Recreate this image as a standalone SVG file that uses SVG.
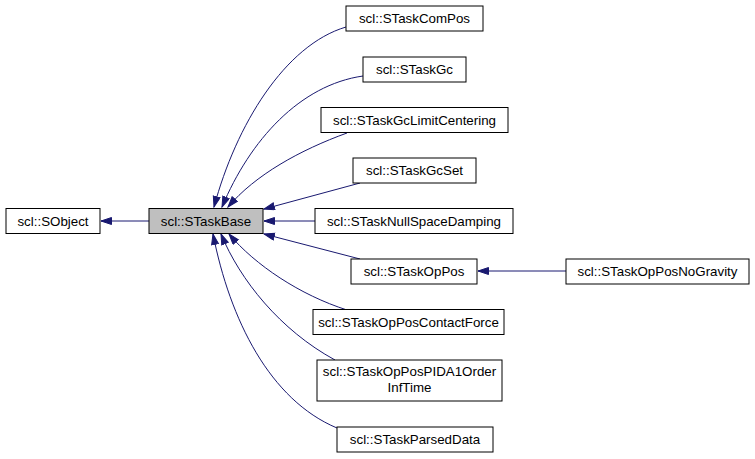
<svg xmlns="http://www.w3.org/2000/svg" width="755" height="459" viewBox="0 0 755 459">
<style>
.n rect{fill:#ffffff;stroke:#000000;stroke-width:1}
.n.hl rect{fill:#bfbfbf}
.n text{font-family:"Liberation Sans",Arial,sans-serif;font-size:13.33px;fill:#000000;text-anchor:middle}
.e path{fill:none;stroke:#191970;stroke-width:1;marker-end:url(#ah)}
</style>
<defs>
<marker id="ah" markerUnits="userSpaceOnUse" markerWidth="12" markerHeight="9" refX="11" refY="4" orient="auto">
<path d="M0.5,0.5 L11,4 L0.5,7.5 z" fill="#191970" stroke="#191970" stroke-width="1"/>
</marker>
</defs>
<rect width="755" height="459" fill="#ffffff"/>
<g id="edges" class="e">
<path d="M149,221 L101,221"/>
<path d="M346,27 C285,45 236,125 214,207"/>
<path d="M363,76 C300,85 250,140 222,207"/>
<path d="M347,133 C300,150 255,175 228,207"/>
<path d="M360,183 L264,209"/>
<path d="M315,221 L264,221"/>
<path d="M360,259 L264,234"/>
<path d="M347,310 C300,295 255,265 229,234"/>
<path d="M335,360 C280,330 240,280 221,234"/>
<path d="M337,428 C270,400 230,320 213,234"/>
<path d="M566,271 L478,271"/>
</g>
<g id="SObject" class="n"><rect x="6" y="208.5" width="94" height="25"/><text x="53" y="225.5">scl::SObject</text></g>
<g id="STaskBase" class="n hl"><rect x="149" y="208.5" width="114" height="25"/><text x="206" y="225.5">scl::STaskBase</text></g>
<g id="STaskComPos" class="n"><rect x="346" y="6" width="137" height="25"/><text x="414.5" y="23">scl::STaskComPos</text></g>
<g id="STaskGc" class="n"><rect x="363" y="57" width="103" height="25"/><text x="414.5" y="74">scl::STaskGc</text></g>
<g id="STaskGcLimitCentering" class="n"><rect x="321" y="107.5" width="187" height="25"/><text x="414.5" y="124.5">scl::STaskGcLimitCentering</text></g>
<g id="STaskGcSet" class="n"><rect x="353" y="158" width="123" height="25"/><text x="414.5" y="175">scl::STaskGcSet</text></g>
<g id="STaskNullSpaceDamping" class="n"><rect x="315" y="208.5" width="198" height="25"/><text x="414" y="225.5">scl::STaskNullSpaceDamping</text></g>
<g id="STaskOpPos" class="n"><rect x="351" y="259" width="126" height="25"/><text x="414" y="276">scl::STaskOpPos</text></g>
<g id="STaskOpPosNoGravity" class="n"><rect x="566" y="259" width="183" height="25"/><text x="657.5" y="276">scl::STaskOpPosNoGravity</text></g>
<g id="STaskOpPosContactForce" class="n"><rect x="313" y="309.5" width="191" height="25"/><text x="408.5" y="326.5">scl::STaskOpPosContactForce</text></g>
<g id="STaskOpPosPIDA1OrderInfTime" class="n"><rect x="317" y="360" width="185" height="41"/><text x="409.5" y="376">scl::STaskOpPosPIDA1Order</text><text x="409.5" y="392">InfTime</text></g>
<g id="STaskParsedData" class="n"><rect x="337" y="427" width="156" height="25"/><text x="415" y="444">scl::STaskParsedData</text></g>
</svg>
